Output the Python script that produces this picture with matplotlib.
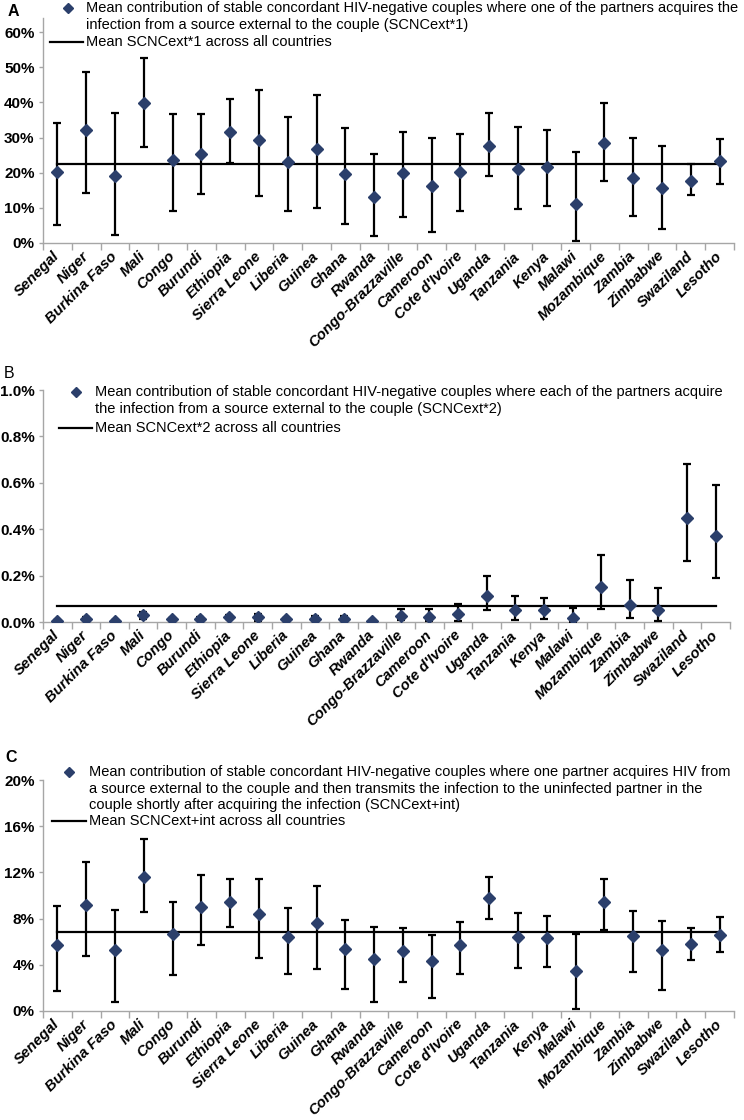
import numpy as np
import matplotlib
matplotlib.use('Agg')
import matplotlib.pyplot as plt
from matplotlib.lines import Line2D
from matplotlib.ticker import FuncFormatter

plt.rcParams['font.family'] = ['Liberation Sans', 'DejaVu Sans']

countries = ['Senegal', 'Niger', 'Burkina Faso', 'Mali', 'Congo', 'Burundi', 'Ethiopia',
             'Sierra Leone', 'Liberia', 'Guinea', 'Ghana', 'Rwanda', 'Congo-Brazzaville',
             'Cameroon', "Cote d'Ivoire", 'Uganda', 'Tanzania', 'Kenya', 'Malawi',
             'Mozambique', 'Zambia', 'Zimbabwe', 'Swaziland', 'Lesotho']

# panel A, SCNCext*1 (%)
a_mean = [20.2, 32.2, 19.1, 39.9, 23.7, 25.4, 31.5, 29.3, 23.0, 26.8, 19.5, 13.0,
          20.0, 16.2, 20.3, 27.7, 21.1, 21.6, 11.1, 28.4, 18.6, 15.6, 17.7, 23.2]
a_low = [5.0, 14.2, 2.3, 27.3, 9.0, 13.9, 22.7, 13.5, 9.0, 10.0, 5.5, 2.0,
         7.5, 3.0, 9.2, 19.1, 9.6, 10.5, 0.5, 17.5, 7.7, 4.0, 13.7, 16.9]
a_high = [34.2, 48.6, 37.1, 52.5, 36.8, 36.6, 40.9, 43.6, 35.8, 42.2, 32.7, 25.3,
          31.5, 29.8, 31.0, 37.0, 33.0, 32.2, 25.8, 39.8, 29.8, 27.6, 22.4, 29.6]
a_avg = 22.6

# panel B, SCNCext*2 (%)
b_mean = [0.005, 0.015, 0.004, 0.030, 0.012, 0.015, 0.022, 0.020, 0.012, 0.015, 0.015, 0.006,
          0.025, 0.020, 0.035, 0.113, 0.052, 0.052, 0.016, 0.149, 0.075, 0.053, 0.449, 0.370]
b_low = [0.002, 0.008, 0.001, 0.015, 0.006, 0.008, 0.012, 0.006, 0.006, 0.006, 0.006, 0.002,
         0.008, 0.005, 0.006, 0.053, 0.010, 0.013, 0.0, 0.056, 0.016, 0.006, 0.265, 0.190]
b_high = [0.008, 0.022, 0.007, 0.045, 0.018, 0.022, 0.032, 0.035, 0.018, 0.025, 0.025, 0.010,
          0.055, 0.055, 0.078, 0.198, 0.111, 0.104, 0.059, 0.287, 0.183, 0.146, 0.680, 0.590]
b_avg = 0.07

# panel C, SCNCext+int (%)
c_mean = [5.7, 9.2, 5.3, 11.6, 6.7, 9.0, 9.4, 8.4, 6.4, 7.6, 5.4, 4.5,
          5.2, 4.3, 5.7, 9.8, 6.4, 6.3, 3.5, 9.4, 6.5, 5.3, 5.8, 6.6]
c_low = [1.7, 4.8, 0.8, 8.6, 3.1, 5.7, 7.3, 4.6, 3.2, 3.6, 1.9, 0.8,
         2.5, 1.1, 3.2, 8.0, 3.7, 3.8, 0.2, 7.0, 3.4, 1.8, 4.4, 5.1]
c_high = [9.1, 12.9, 8.75, 14.9, 9.4, 11.8, 11.4, 11.4, 8.9, 10.85, 7.9, 7.3,
          7.2, 6.6, 7.7, 11.6, 8.5, 8.2, 6.7, 11.4, 8.7, 7.8, 7.2, 8.1]
c_avg = 6.8

navy = '#2B3F6B'
grey = '#A6A6A6'
W, H = 744, 1120


def fx(x):
    return x / W


def fy(y):
    return 1 - y / H


def panel(fig, box, mean, low, high, avg, ylim, yticks, fmt):
    left, top, right, bottom = box
    ax = fig.add_axes([fx(left), fy(bottom), (right - left) / W, (bottom - top) / H])
    x = np.arange(len(countries))
    mean = np.array(mean)
    err = [mean - np.array(low), np.array(high) - mean]
    ax.plot([x[0], x[-1]], [avg, avg], color='black', lw=1.6, zorder=2)
    ax.errorbar(x, mean, yerr=err, fmt='D', ms=6.5, mfc=navy, mec=navy,
                ecolor='black', elinewidth=1.6, capsize=2.8, capthick=1.6, zorder=3)
    ax.set_xlim(-0.5, len(countries) - 0.5)
    ax.set_ylim(*ylim)
    ax.set_yticks(yticks)
    ax.yaxis.set_major_formatter(FuncFormatter(lambda v, p: fmt.format(v)))
    ax.set_xticks(x)
    ax.set_xticklabels(countries, rotation=45, ha='right', va='center',
                       rotation_mode='anchor', fontsize=10.7, fontweight='bold',
                       fontstyle='italic')
    ax.set_xticks(np.arange(-0.5, len(countries)), minor=True)
    ax.tick_params(axis='x', which='major', length=0, pad=8)
    ax.tick_params(axis='x', which='minor', length=5, color=grey, width=1)
    ax.tick_params(axis='y', length=3, color=grey, width=1, labelsize=11, pad=3)
    for lab in ax.get_yticklabels():
        lab.set_fontweight('bold')
    for s in ['top', 'right']:
        ax.spines[s].set_visible(False)
    for s in ['left', 'bottom']:
        ax.spines[s].set_color(grey)
        ax.spines[s].set_linewidth(1)
    return ax


def legend(fig, mx, my, tx, lines, mean_text, ly, lx0, step=16.5):
    fig.add_artist(Line2D([fx(mx)], [fy(my)], marker='D', ms=5, color=navy, ls='none'))
    for i, t in enumerate(lines):
        fig.text(fx(tx), fy(my + i * step), t, fontsize=10.5, va='center', ha='left')
    fig.add_artist(Line2D([fx(lx0), fx(tx - 3)], [fy(ly), fy(ly)], color='black', lw=1.6))
    fig.text(fx(tx), fy(ly), mean_text, fontsize=10.5, va='center', ha='left')


fig = plt.figure(figsize=(W / 100, H / 100), dpi=100)

panel(fig, (43, 18, 734, 243), a_mean, a_low, a_high, a_avg,
      (0, 64), np.arange(0, 61, 10), '{:.0f}%')
panel(fig, (43, 390, 730, 622), b_mean, b_low, b_high, b_avg,
      (0, 1.0), np.arange(0, 1.01, 0.2), '{:.1f}%')
panel(fig, (43, 780, 734, 1011), c_mean, c_low, c_high, c_avg,
      (0, 20), np.arange(0, 21, 4), '{:.0f}%')

legend(fig, 68, 8, 86,
       ['Mean contribution of stable concordant HIV-negative couples where one of the partners acquires the',
        'infection from a source external to the couple (SCNCext*1)'],
       'Mean SCNCext*1 across all countries', 42, 50)
legend(fig, 76, 392, 95,
       ['Mean contribution of stable concordant HIV-negative couples where each of the partners acquire',
        'the infection from a source external to the couple (SCNCext*2)'],
       'Mean SCNCext*2 across all countries', 428, 59)
legend(fig, 69, 772, 89,
       ['Mean contribution of stable concordant HIV-negative couples where one partner acquires HIV from',
        'a source external to the couple and then transmits the infection to the uninfected partner in the',
        'couple shortly after acquiring the infection (SCNCext+int)'],
       'Mean SCNCext+int across all countries', 821, 52)

fig.text(fx(13), fy(12), 'A', fontsize=11.5, fontweight='bold', va='center', ha='center')
fig.text(fx(9), fy(373), 'B', fontsize=11.5, va='center', ha='center')
fig.text(fx(11), fy(757), 'C', fontsize=11.5, fontweight='bold', va='center', ha='center')

fig.savefig('out.png', dpi=100)
